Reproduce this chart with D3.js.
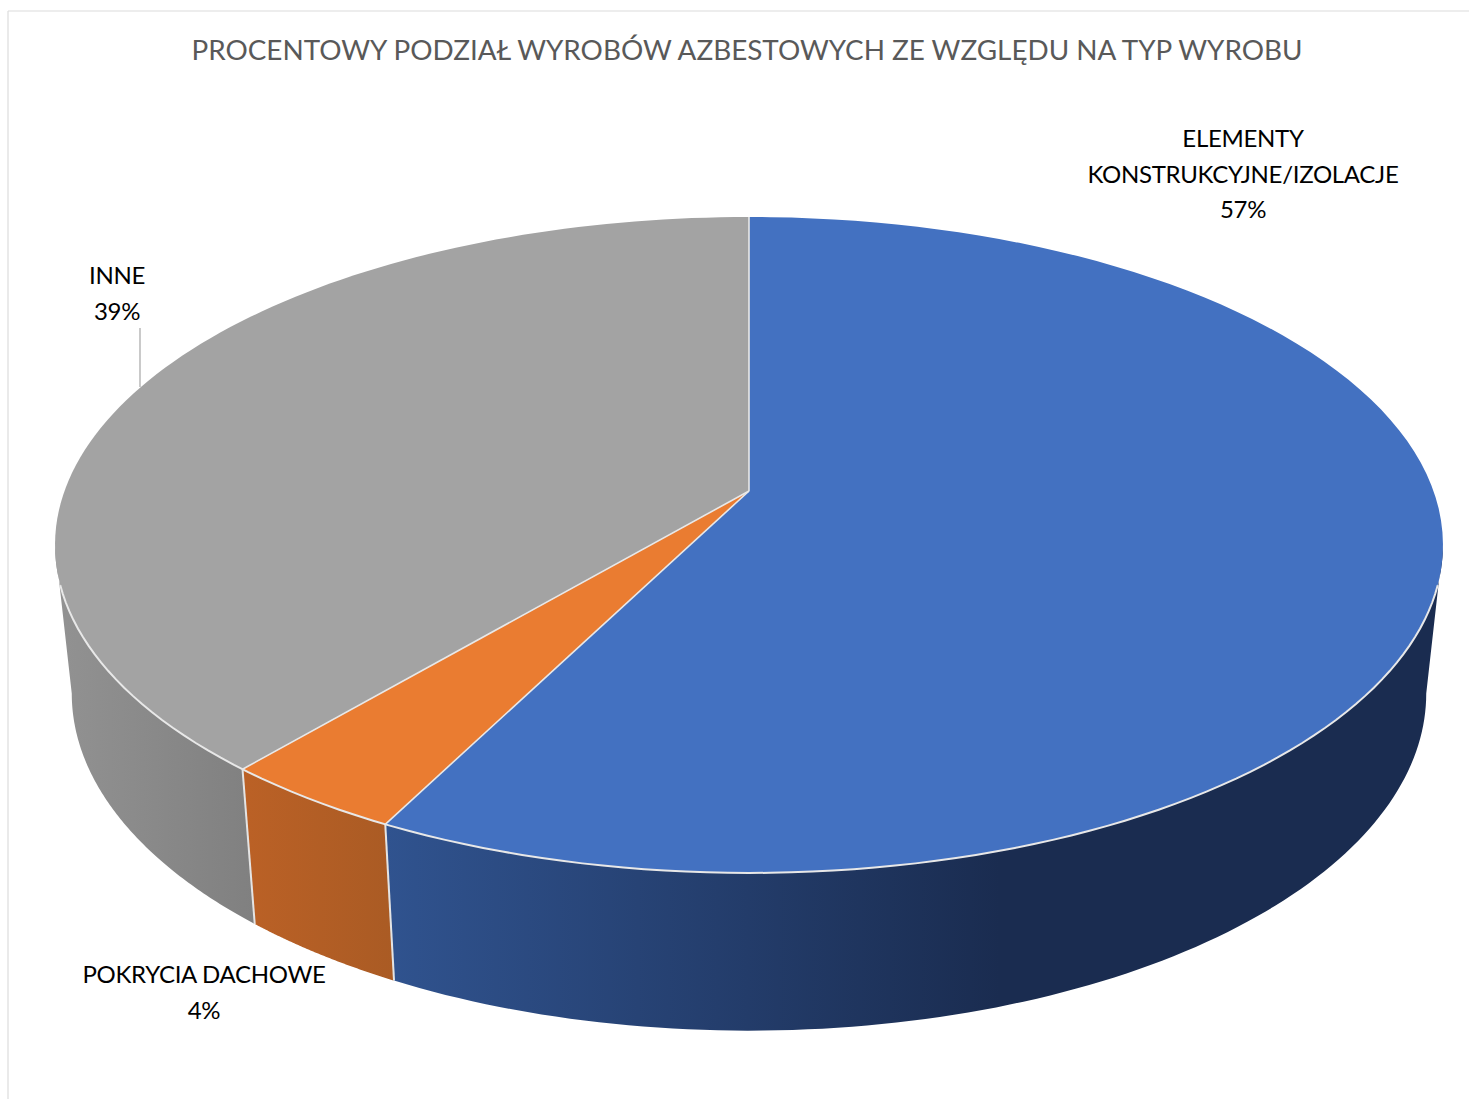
<!DOCTYPE html>
<html><head><meta charset="utf-8">
<script src="https://cdn.jsdelivr.net/npm/d3@7"></script>
<style>html,body{margin:0;padding:0;background:#fff}svg{display:block}text{font-family:Lato,"Open Sans",sans-serif}</style>
</head><body><div id="c"></div>
<script>
const titleText = "PROCENTOWY PODZIAŁ WYROBÓW AZBESTOWYCH ZE WZGLĘDU NA TYP WYROBU";
const categories = ["ELEMENTY KONSTRUKCYJNE/IZOLACJE","POKRYCIA DACHOWE","INNE"];
const values = [57.49, 3.71, 38.8];
const topColors = ["#4371c1","#ea7c31","#a3a3a3"];
const wallStops = [["#30538f","#1a2c50"],["#bb6126","#aa5b24"],["#929292","#808080"]];
const labelLines = [["ELEMENTY","KONSTRUKCYJNE/IZOLACJE"],["POKRYCIA DACHOWE"],["INNE"]];
const labelCenters = [[1243,139],[204,975],[117,276]];

const W=1469,H=1099;
const svg=d3.select("#c").append("svg").attr("width",W).attr("height",H);
const defs=svg.append("defs");
// panel border (only its top and left edges fall inside the picture)
svg.append("line").attr("x1",8).attr("x2",W).attr("y1",11).attr("y2",11).attr("stroke","#dcdcdc").attr("stroke-width",1.2);
svg.append("line").attr("x1",8).attr("x2",8).attr("y1",11).attr("y2",H).attr("stroke","#dcdcdc").attr("stroke-width",1.2);

svg.append("text").attr("x",747).attr("y",60).attr("text-anchor","middle")
  .attr("font-size",27.85).attr("fill","#595959").text(titleText);

// perspective projection of a disc
const k=0.1646, cx=749;
const topDisc={cy:491,A:684.5,B:319.1}, botDisc={cy:638,A:668,B:328};
const project=(d,t)=>{const u=Math.sin(t),v=Math.cos(t),w=1+k*v;return [cx+d.A*u/w,d.cy-d.B*v/w];};
const arcSamples=(a,b)=>d3.range(0,101).map(i=>a+(b-a)*i/100);
const line=d3.line();
const arcs=d3.pie().sort(null)(values);
const visibleFrom=Math.acos(-k), visibleTo=2*Math.PI-visibleFrom;

// walls
const g=svg.append("g");
arcs.forEach((a,i)=>{
  const s=Math.max(a.startAngle,visibleFrom), e=Math.min(a.endAngle,visibleTo);
  const ts=arcSamples(s,e);
  const pts=ts.map(t=>project(topDisc,t)).concat(ts.slice().reverse().map(t=>project(botDisc,t)));
  const xs=pts.map(p=>p[0]);
  const id="wall"+i;
  const lg=defs.append("linearGradient").attr("id",id).attr("gradientUnits","userSpaceOnUse")
    .attr("x1",d3.min(xs)).attr("x2",i===0?1000:d3.max(xs)).attr("y1",0).attr("y2",0);
  lg.append("stop").attr("offset",0).attr("stop-color",wallStops[i][0]);
  lg.append("stop").attr("offset",1).attr("stop-color",wallStops[i][1]);
  g.append("path").attr("d",line(pts)+"Z").attr("fill",`url(#${id})`);
});
// wall seams
[arcs[0].endAngle,arcs[1].endAngle].forEach(t=>{
  g.append("path").attr("d",line([project(topDisc,t),project(botDisc,t)]))
    .attr("stroke","#e4e4e4").attr("stroke-width",2).attr("fill","none");
});
// top face
const centre=[cx,topDisc.cy];
arcs.forEach((a,i)=>{
  const pts=[centre].concat(arcSamples(a.startAngle,a.endAngle).map(t=>project(topDisc,t)));
  g.append("path").attr("d",line(pts)+"Z").attr("fill",topColors[i]);
});
// separators and front rim
[arcs[0].startAngle,arcs[0].endAngle,arcs[1].endAngle].forEach(t=>{
  g.append("path").attr("d",line([centre,project(topDisc,t)]))
    .attr("stroke","#e8e8e8").attr("stroke-width",1.6).attr("fill","none");
});
g.append("path").attr("d",line(arcSamples(visibleFrom+0.12,visibleTo-0.12).map(t=>project(topDisc,t))))
  .attr("stroke","#e8e8e8").attr("stroke-width",2).attr("fill","none");

// leader
svg.append("line").attr("x1",140).attr("x2",140).attr("y1",328).attr("y2",387).attr("stroke","#a6a6a6").attr("stroke-width",1.2);

// labels
const dy=35.5;
labelLines.forEach((lines,i)=>{
  const c=labelCenters[i];
  const t=svg.append("text").attr("text-anchor","middle").attr("font-size",24).attr("letter-spacing",-0.3).attr("fill","#000");
  lines.concat([d3.format(".0f")(values[i])+"%"]).forEach((s,j)=>{
    t.append("tspan").attr("x",c[0]).attr("y",c[1]+8+j*dy).text(s);
  });
});
</script></body></html>
